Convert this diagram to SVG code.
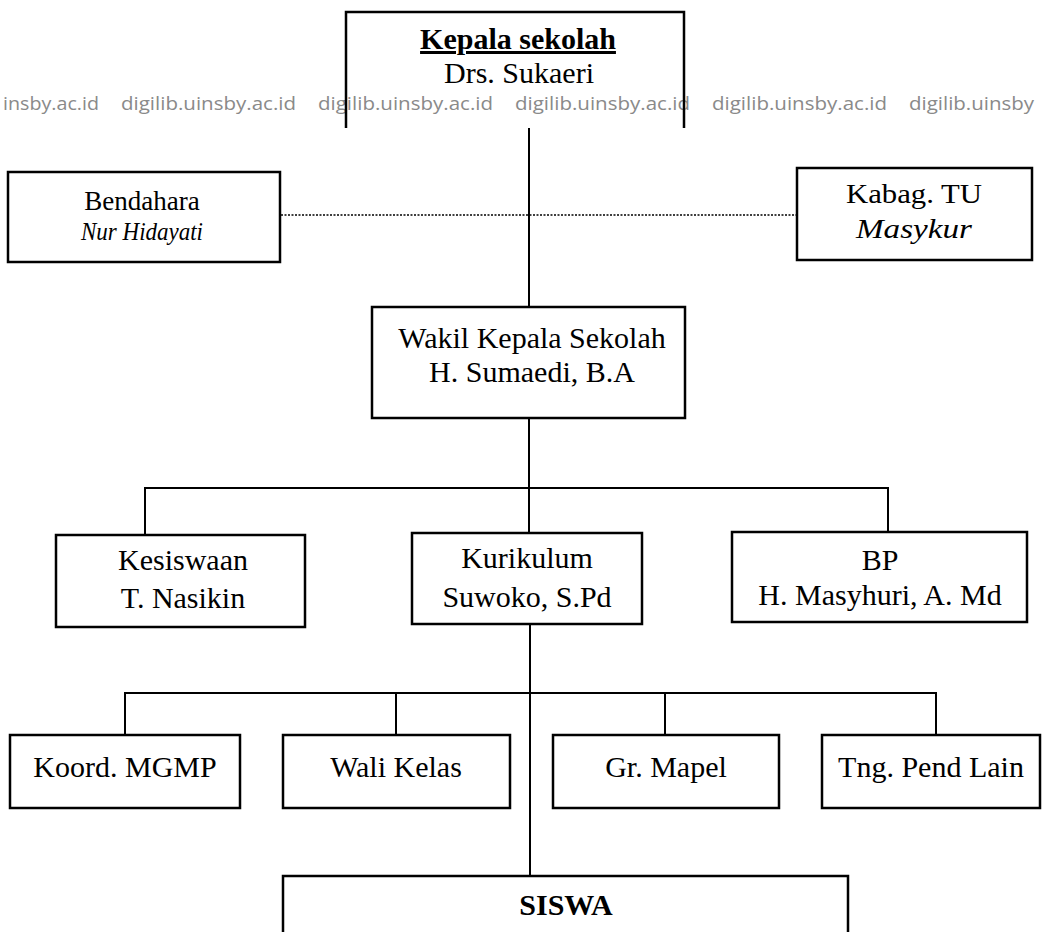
<svg xmlns="http://www.w3.org/2000/svg" width="1047" height="932" viewBox="0 0 1047 932">
<style>
.box{fill:none;stroke:#000;stroke-width:2.5}
.ln{fill:none;stroke:#000;stroke-width:2}
.dot{fill:none;stroke:#000;stroke-width:1.6;stroke-dasharray:2 1.5}
.t{font-family:"Liberation Serif","Times New Roman",serif;font-size:30px;fill:#000;text-anchor:middle}
.b{font-weight:bold}
.i{font-style:italic}
.wm{font-family:"Open Sans","Noto Sans",sans-serif;font-size:19px;fill:#8a8a8a}
</style>
<rect width="1047" height="932" fill="#fff"/>
<g id="watermark">
<text class="wm" x="3" y="110" textLength="96" lengthAdjust="spacingAndGlyphs">insby.ac.id</text>
<text class="wm" x="121" y="110" textLength="175" lengthAdjust="spacingAndGlyphs">digilib.uinsby.ac.id</text>
<text class="wm" x="318" y="110" textLength="175" lengthAdjust="spacingAndGlyphs">digilib.uinsby.ac.id</text>
<text class="wm" x="515" y="110" textLength="175" lengthAdjust="spacingAndGlyphs">digilib.uinsby.ac.id</text>
<text class="wm" x="712" y="110" textLength="175" lengthAdjust="spacingAndGlyphs">digilib.uinsby.ac.id</text>
<text class="wm" x="909" y="110" textLength="125" lengthAdjust="spacingAndGlyphs">digilib.uinsby</text>
</g>
<g id="connectors">
<line class="ln" x1="529" y1="128" x2="529" y2="307"/>
<line class="dot" x1="281" y1="215" x2="797" y2="215"/>
<line class="ln" x1="529" y1="418" x2="529" y2="488"/>
<polyline class="ln" points="145,535 145,488 888,488 888,532"/>
<line class="ln" x1="529" y1="488" x2="529" y2="533"/>
<line class="ln" x1="530" y1="624" x2="530" y2="876"/>
<polyline class="ln" points="125,735 125,693 936,693 936,735"/>
<line class="ln" x1="396" y1="693" x2="396" y2="735"/>
<line class="ln" x1="665" y1="693" x2="665" y2="735"/>
</g>
<g id="kepala">
<path class="box" d="M346,128 V12 H684 V128"/>
<text class="t b" x="518" y="49" text-decoration="underline">Kepala sekolah</text>
<text class="t" x="519" y="83">Drs. Sukaeri</text>
</g>
<g id="bendahara">
<rect class="box" x="8" y="172" width="272" height="90"/>
<text class="t" x="142" y="210" style="font-size:27px">Bendahara</text>
<text class="t i" x="142" y="240" style="font-size:25px" textLength="122" lengthAdjust="spacingAndGlyphs">Nur Hidayati</text>
</g>
<g id="kabag">
<rect class="box" x="797" y="168" width="235" height="92"/>
<text class="t" x="914" y="203" style="font-size:28px" textLength="136" lengthAdjust="spacingAndGlyphs">Kabag. TU</text>
<text class="t i" x="914" y="238" style="font-size:28px" textLength="116" lengthAdjust="spacingAndGlyphs">Masykur</text>
</g>
<g id="wakil">
<rect class="box" x="372" y="307" width="313" height="111"/>
<text class="t" x="532" y="348">Wakil Kepala Sekolah</text>
<text class="t" x="532" y="382">H. Sumaedi, B.A</text>
</g>
<g id="kesiswaan">
<rect class="box" x="56" y="535" width="249" height="92"/>
<text class="t" x="183" y="570">Kesiswaan</text>
<text class="t" x="183" y="608">T. Nasikin</text>
</g>
<g id="kurikulum">
<rect class="box" x="412" y="533" width="230" height="91"/>
<text class="t" x="527" y="568">Kurikulum</text>
<text class="t" x="527" y="607">Suwoko, S.Pd</text>
</g>
<g id="bp">
<rect class="box" x="732" y="532" width="295" height="90"/>
<text class="t" x="880" y="570">BP</text>
<text class="t" x="880" y="605">H. Masyhuri, A. Md</text>
</g>
<g id="koord">
<rect class="box" x="10" y="735" width="230" height="73"/>
<text class="t" x="125" y="777">Koord. MGMP</text>
</g>
<g id="wali">
<rect class="box" x="283" y="735" width="227" height="73"/>
<text class="t" x="396" y="777">Wali Kelas</text>
</g>
<g id="grmapel">
<rect class="box" x="553" y="735" width="226" height="73"/>
<text class="t" x="666" y="777">Gr. Mapel</text>
</g>
<g id="tng">
<rect class="box" x="822" y="735" width="218" height="73"/>
<text class="t" x="931" y="777">Tng. Pend Lain</text>
</g>
<g id="siswa">
<path class="box" d="M283,934 V876 H848 V934"/>
<text class="t b" x="566" y="915">SISWA</text>
</g>
</svg>
